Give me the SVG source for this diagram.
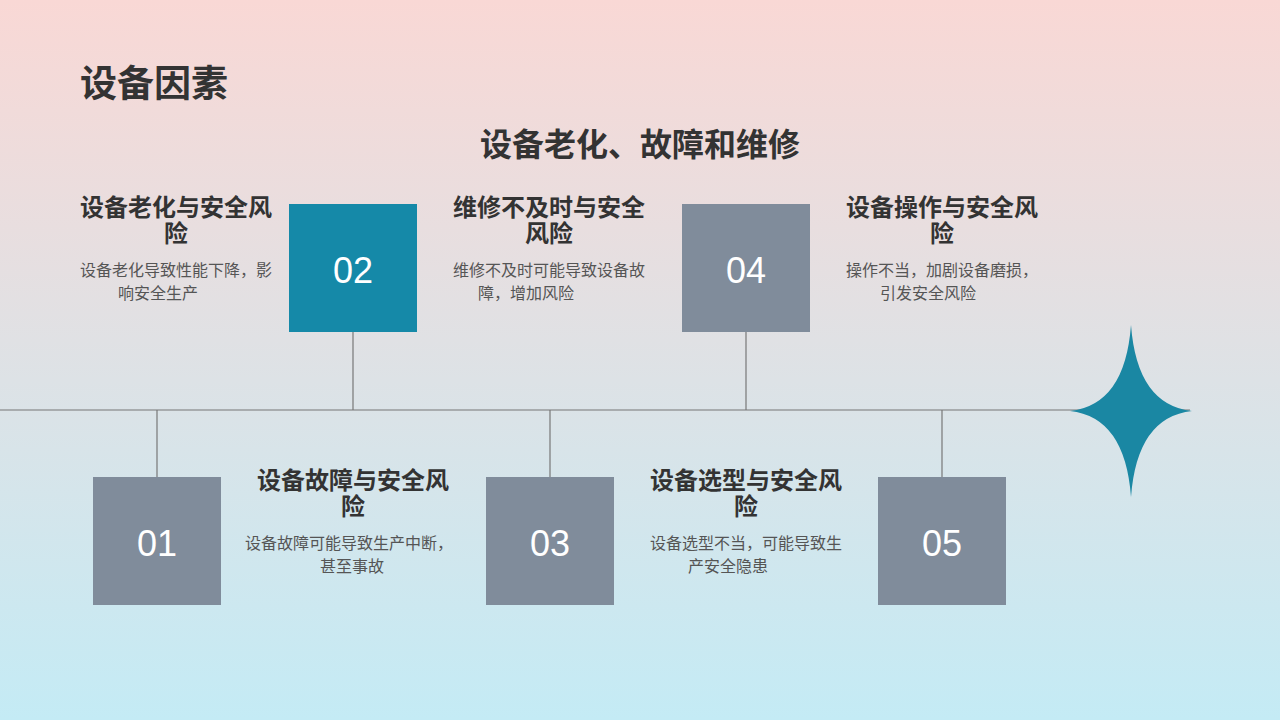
<svg xmlns="http://www.w3.org/2000/svg" width="1280" height="720" viewBox="0 0 1280 720">
<defs>
<linearGradient id="bg" x1="0" y1="0" x2="0" y2="1"><stop offset="0" stop-color="#f9d8d5"/><stop offset="1" stop-color="#c4ebf5"/></linearGradient>
<style>
text{font-family:"Noto Sans CJK SC","Liberation Sans",sans-serif;}
.h{font-size:24px;font-weight:bold;fill:#333;text-anchor:middle}
.b{font-size:16px;fill:#555;text-anchor:middle}
.n{font-family:"Liberation Sans",sans-serif;font-size:36px;fill:#fff;text-anchor:middle}
.g{fill:#808c9b}
.ln{stroke:#777;stroke-width:1.2;fill:none}
</style>
</defs>
<rect width="1280" height="720" fill="url(#bg)"/>
<text x="80" y="97" font-size="37" font-weight="bold" fill="#333">设备因素</text>
<text x="640" y="156" font-size="32" font-weight="bold" fill="#333" text-anchor="middle">设备老化、故障和维修</text>
<g id="connectors">
<line class="ln" x1="0" y1="410" x2="1190" y2="410"/>
<line class="ln" x1="157" y1="410" x2="157" y2="477"/>
<line class="ln" x1="353" y1="332" x2="353" y2="410"/>
<line class="ln" x1="550" y1="410" x2="550" y2="477"/>
<line class="ln" x1="746" y1="332" x2="746" y2="410"/>
<line class="ln" x1="942" y1="410" x2="942" y2="477"/>
</g>
<path id="star" d="M1131 325 Q1137 405 1192 411 Q1137 417 1131 497 Q1125 417 1070 411 Q1125 405 1131 325Z" fill="#1a87a3"/>
<g id="n01"><rect class="g" x="93" y="477" width="128" height="128"/><text class="n" x="157" y="556">01</text>
<text class="h" x="353" y="489">设备故障与安全风</text><text class="h" x="353" y="515">险</text>
<text class="b" x="349" y="549">设备故障可能导致生产中断，</text><text class="b" x="352" y="572">甚至事故</text></g>
<g id="n02"><rect fill="#1589a8" x="289" y="204" width="128" height="128"/><text class="n" x="353" y="283">02</text>
<text class="h" x="176" y="216">设备老化与安全风</text><text class="h" x="176" y="242">险</text>
<text class="b" x="176" y="276">设备老化导致性能下降，影</text><text class="b" x="158" y="299">响安全生产</text></g>
<g id="n03"><rect class="g" x="486" y="477" width="128" height="128"/><text class="n" x="550" y="556">03</text>
<text class="h" x="746" y="489">设备选型与安全风</text><text class="h" x="746" y="515">险</text>
<text class="b" x="746" y="549">设备选型不当，可能导致生</text><text class="b" x="728" y="572">产安全隐患</text></g>
<g id="n04"><rect class="g" x="682" y="204" width="128" height="128"/><text class="n" x="746" y="283">04</text>
<text class="h" x="549" y="216">维修不及时与安全</text><text class="h" x="549" y="242">风险</text>
<text class="b" x="549" y="276">维修不及时可能导致设备故</text><text class="b" x="526" y="299">障，增加风险</text></g>
<g id="n05"><rect class="g" x="878" y="477" width="128" height="128"/><text class="n" x="942" y="556">05</text>
<text class="h" x="942" y="216">设备操作与安全风</text><text class="h" x="942" y="242">险</text>
<text class="b" x="942" y="276">操作不当，加剧设备磨损，</text><text class="b" x="928" y="299">引发安全风险</text></g>
</svg>
